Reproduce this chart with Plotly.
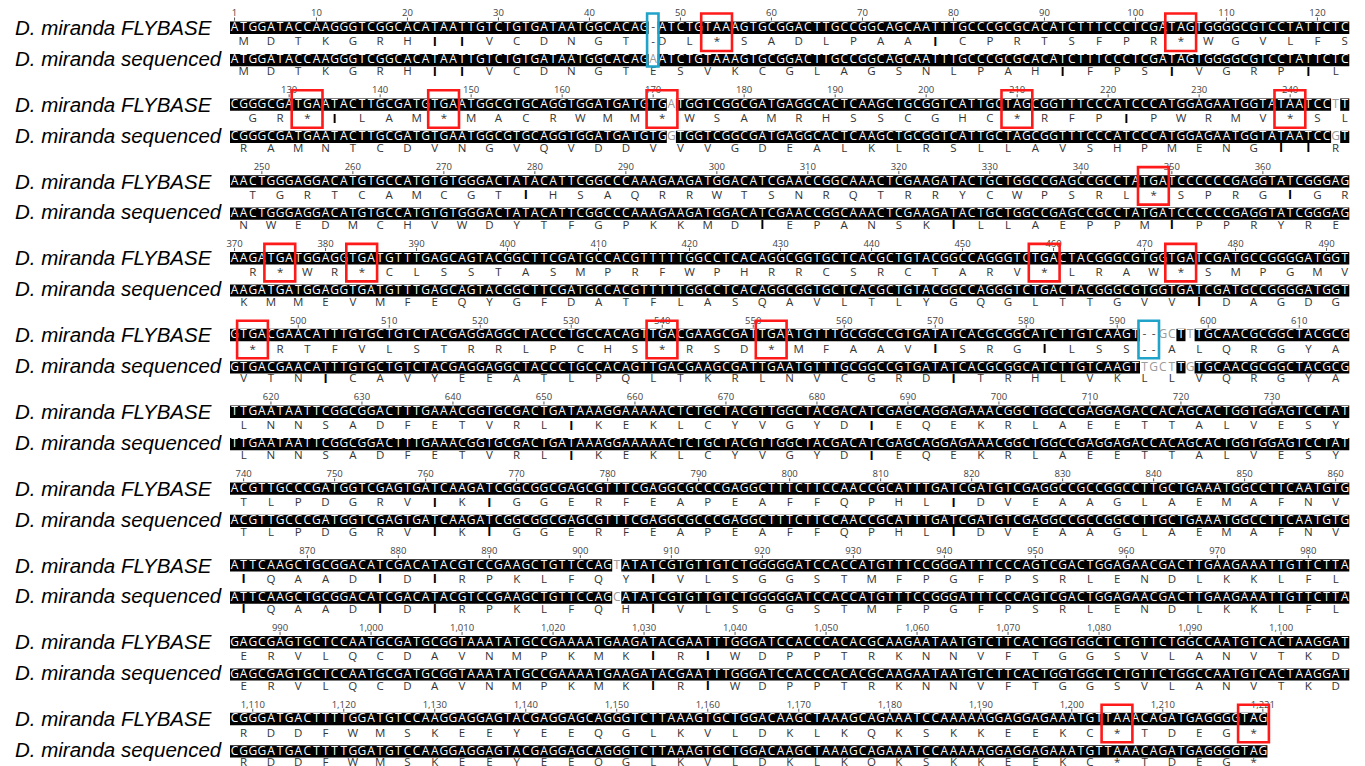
import plotly.graph_objects as go

# ---------------- data ----------------
ROW_STARTS = [1, 124, 247, 370, 493, 616, 739, 862, 985, 1108]
ALN_LEN = 1221

FLYBASE_ROWS = [
    "ATGGATACCAAGGGTCGGCACATAATTGTCTGTGATAATGGCACAG" + "-" + "ATCTGTAAAGTGCGGACTTGCCGGCAGCAATTTGCCCGCGCACATCTTTCCCTCGATAGTGGGGCGTCCTATTCTC",
    "CGGGCGATGAATACTTGCGATGTGAATGGCGTGCAGGTGGATGATGTGATGGTCGGCGATGA" + "GGCACTCAAGCTGCGGTCATTGCTAGCGGTTTCCCATCCCATGGAGAATGGTATAATCCTT",
    "AACTGGGAGGACATGTGCCATGTGTGGGACTATACATTCGGCCCAAAGAAGATGGACATCGA" + "ACCGGCAAACTCGAAGATACTGCTGGCCGAGCCGCCTATGATCCCCCCGAGGTATCGGGAG",
    "AAGATGATGGAGGTGATGTTTGAGCAGTACGGCTTCGATGCCACGTTTTTGGCCTCACAGGC" + "GGTGCTCACGCTGTACGGCCAGGGTCTGACTACGGGCGTGGTGATCGATGCCGGGGATGGT",
    "GTGACGAACATTTGTGCTGTCTACGAGGAGGCTACCCTGCCACAGTTGACGAAGCGATTGA" + "ATGTTTGCGGCCGTGATATCACGCGGCATCTTGTCAAGT" + "--GCTTTGCAACGCGGCTACGCG",
    "TTGAATAATTCGGCGGACTTTGAAACGGTGCGACTGATAAAGGAAAAACTCTGCTACGTTGG" + "CTACGACATCGAGCAGGAGAAACGGCTGGCCGAGGAGACCACAGCACTGGTGGAGTCCTAT",
    "ACGTTGCCCGATGGTCGAGTGATCAAGATCGGCGGCGAGCGTTTCGAGGCGCCCGAGGCTTT" + "CTTCCAACCGCATTTGATCGATGTCGAGGCCGCCGGCCTTGCTGAAATGGCCTTCAATGTG",
    "ATTCAAGCTGCGGACATCGACATACGTCCGAAGCTGTTCCAG" + "T" + "ATATCGTGTTGTCTGGGGG" + "ATCCACCATGTTTCCGGGATTTCCCAGTCGACTGGAGAACGACTTGAAGAAATTGTTCTTA",
    "GAGCGAGTGCTCCAATGCGATGCGGTAAATATGCCGAAAATGAAGATACGAATTTGGGATCC" + "ACCCACACGCAAGAATAATGTCTTCACTGGTGGCTCTGTTCTGGCCAATGTCACTAAGGAT",
    "CGGGATGACTTTTGGATGTCCAAGGAGGAGTACGAGGAGCAGGGTCTTAAAGTGCTGGACAA" + "GCTAAAGCAGAAATCCAAAAAGGAGGAGAAATGTTAAACAGATGAGGGGTAG",
]

SEQUENCED_ROWS = [
    "ATGGATACCAAGGGTCGGCACATAATTGTCTGTGATAATGGCACAG" + "A" + "ATCTGTAAAGTGCGGACTTGCCGGCAGCAATTTGCCCGCGCACATCTTTCCCTCGATAGTGGGGCGTCCTATTCTC",
    "CGGGCGATGAATACTTGCGATGTGAATGGCGTGCAGGTGGATGATGTGGTGGTCGGCGATGA" + "GGCACTCAAGCTGCGGTCATTGCTAGCGGTTTCCCATCCCATGGAGAATGGTATAATCCGT",
    "AACTGGGAGGACATGTGCCATGTGTGGGACTATACATTCGGCCCAAAGAAGATGGACATCGA" + "ACCGGCAAACTCGAAGATACTGCTGGCCGAGCCGCCTATGATCCCCCCGAGGTATCGGGAG",
    "AAGATGATGGAGGTGATGTTTGAGCAGTACGGCTTCGATGCCACGTTTTTGGCCTCACAGGC" + "GGTGCTCACGCTGTACGGCCAGGGTCTGACTACGGGCGTGGTGATCGATGCCGGGGATGGT",
    "GTGACGAACATTTGTGCTGTCTACGAGGAGGCTACCCTGCCACAGTTGACGAAGCGATTGA" + "ATGTTTGCGGCCGTGATATCACGCGGCATCTTGTCAAGT" + "TGCTTGTGCAACGCGGCTACGCG",
    "TTGAATAATTCGGCGGACTTTGAAACGGTGCGACTGATAAAGGAAAAACTCTGCTACGTTGG" + "CTACGACATCGAGCAGGAGAAACGGCTGGCCGAGGAGACCACAGCACTGGTGGAGTCCTAT",
    "ACGTTGCCCGATGGTCGAGTGATCAAGATCGGCGGCGAGCGTTTCGAGGCGCCCGAGGCTTT" + "CTTCCAACCGCATTTGATCGATGTCGAGGCCGCCGGCCTTGCTGAAATGGCCTTCAATGTG",
    "ATTCAAGCTGCGGACATCGACATACGTCCGAAGCTGTTCCAG" + "C" + "ATATCGTGTTGTCTGGGGG" + "ATCCACCATGTTTCCGGGATTTCCCAGTCGACTGGAGAACGACTTGAAGAAATTGTTCTTA",
    "GAGCGAGTGCTCCAATGCGATGCGGTAAATATGCCGAAAATGAAGATACGAATTTGGGATCC" + "ACCCACACGCAAGAATAATGTCTTCACTGGTGGCTCTGTTCTGGCCAATGTCACTAAGGAT",
    "CGGGATGACTTTTGGATGTCCAAGGAGGAGTACGAGGAGCAGGGTCTTAAAGTGCTGGACAA" + "GCTAAAGCAGAAATCCAAAAAGGAGGAGAAATGTTAAACAGATGAGGGGTAG",
]

FLYBASE_AA = [
    "MDTKGRHIIVCDNGTDL*SADLPAAICPRTSFPR*WGVLFS",
    "GR*ILAM*MACRWMM*WSAMRHSSCGHC*RFPIPWRMV*SL",
    "TGRTCAMCGTIHSAQRRWTSNRQTRRYCWPSRL*SPRGIGR",
    "R*WR*CLSSTASMPRFWPHRRCSRCTARV*LRAW*SMPGMV",
    "*RTFVLSTRRLPCHS*RSD*MFAAVISRGILSSALQRGYA",
    "LNNSADFETVRLIKEKLCYVGYDIEQEKRLAEETTALVESY",
    "TLPDGRVIKIGGERFEAPEAFFQPHLIDVEAAGLAEMAFNV",
    "IQAADIDIRPKLFQYIVLSGGSTMFPGFPSRLENDLKKLFL",
    "ERVLQCDAVNMPKMKIRIWDPPTRKNNVFTGGSVLANVTKD",
    "RDDFWMSKEEYEEQGLKVLDKLKQKSKKEEKC*TDEG*",
]

SEQUENCED_AA = [
    "MDTKGRHIIVCDNGTESVKCGLAGSNLPAHIFPSIVGRPIL",
    "RAMNTCDVNGVQVDDVVVGDEALKLRSLLAVSHPMENGIIR",
    "NWEDMCHVWDYTFGPKKMDIEPANSKILLAEPPMIPPRYRE",
    "KMMEVMFEQYGFDATFLASQAVLTLYGQGLTTGVVIDAGDG",
    "VTNICAVYEEATLPQLTKRLNVCGRDITRHLVKLLVQRGYA",
    "LNNSADFETVRLIKEKLCYVGYDIEQEKRLAEETTALVESY",
    "TLPDGRVIKIGGERFEAPEAFFQPHLIDVEAAGLAEMAFNV",
    "IQAADIDIRPKLFQHIVLSGGSTMFPGFPSRLENDLKKLFL",
    "ERVLQCDAVNMPKMKIRIWDPPTRKNNVFTGGSVLANVTKD",
    "RDDFWMSKEEYEEQGLKVLDKLKQKSKKEEKC*TDEG*",
]

ROW_LABELS = ["D. miranda FLYBASE", "D. miranda sequenced"]

# stop codons highlighted in red (first alignment column of each codon)
RED_BOX_STARTS = [53, 104, 131, 146, 170, 209, 239, 347, 374, 383, 458, 473,
                  494, 539, 551, 1204, 1219]
# indel regions highlighted in blue: (first column, last column, covers both rows?)
BLUE_BOXES = [(47, 47, True), (593, 594, False)]

RULER_EXTRA = [1, 1221]
RULER_SKIP = [1220]

# ---------------- geometry / style ----------------
PAGE_MARGIN = 8          # default body margin of the html page
W, H = 1365, 766
X0 = 230.0
CW = 9.1
BLOCK_H = 76.8
Y_RULER = 14.0
Y_TICK = (17.5, 20.5)
BAR1 = (21.6, 34.0)
Y_AA1 = 42.6
BAR2 = (54.0, 66.2)
Y_AA2 = 72.4
Y_LAB1 = 27.5
Y_LAB2 = 58.3
BOX_TOP = 13.5
BOX_BOTTOM = 51.0

SEQ_FONT = "Open Sans"
LABEL_FONT = "Liberation Sans"
NT_SIZE = 12
AA_SIZE = 11.5
I_SIZE = 12.5

fly = "".join(FLYBASE_ROWS)
seq = "".join(SEQUENCED_ROWS)
fly_aa = "".join(FLYBASE_AA)
seq_aa = "".join(SEQUENCED_AA)


def row_of(col):
    r = 0
    for i, s in enumerate(ROW_STARTS):
        if s <= col:
            r = i
    return r


def xc(col):
    r = row_of(col)
    return X0 + (col - ROW_STARTS[r] + 0.5) * CW


def xl(col):
    r = row_of(col)
    return X0 + (col - ROW_STARTS[r]) * CW


def base(col):
    return row_of(col) * BLOCK_H


def row_end(r):
    return ROW_STARTS[r + 1] - 1 if r + 1 < len(ROW_STARTS) else ALN_LEN


fig = go.Figure()
shapes = []

# black highlight bars for identical columns
for r in range(len(ROW_STARTS)):
    s, e = ROW_STARTS[r], row_end(r)
    b = r * BLOCK_H
    for (y0, y1) in (BAR1, BAR2):
        run = None
        for c in range(s, e + 2):
            same = c <= e and fly[c - 1] == seq[c - 1]
            if same and run is None:
                run = c
            if not same and run is not None:
                shapes.append(dict(type="rect", xref="x", yref="y", layer="below",
                                   x0=xl(run), x1=xl(c - 1) + CW, y0=b + y0, y1=b + y1,
                                   fillcolor="black", line=dict(width=0)))
                run = None

# nucleotide letters
for s_str, (y0, y1) in ((fly, BAR1), (seq, BAR2)):
    xs, ys, ts, cs = [], [], [], []
    for c in range(1, ALN_LEN + 1):
        ch = s_str[c - 1]
        xs.append(xc(c))
        ys.append(base(c) + (y0 + y1) / 2 + 0.3)
        ts.append(ch)
        if fly[c - 1] == seq[c - 1]:
            cs.append("white")
        elif ch == "-":
            cs.append("#555555")
        else:
            cs.append("#9a9a9a")
    fig.add_trace(go.Scatter(x=xs, y=ys, text=ts, mode="text", hoverinfo="skip",
                             textfont=dict(family=SEQ_FONT, size=NT_SIZE, color=cs),
                             showlegend=False))

# translations
for s_str, aa, yaa in ((fly, fly_aa, Y_AA1), (seq, seq_aa, Y_AA2)):
    cols = [i for i, ch in enumerate(s_str, start=1) if ch != "-"]
    gaps = [i for i, ch in enumerate(s_str, start=1) if ch == "-"]
    xs, ys, ts, cs, ss = [], [], [], [], []
    for k, a in enumerate(aa):
        mid = cols[3 * k + 1]
        xs.append(xc(mid))
        ys.append(base(mid) + yaa)
        if a == "I":
            ts.append("<b>I</b>")
            cs.append("black")
            ss.append(I_SIZE)
        else:
            ts.append(a)
            cs.append("#333333")
            ss.append(AA_SIZE)
    for g in gaps:
        xs.append(xc(g))
        ys.append(base(g) + yaa)
        ts.append("-")
        cs.append("#333333")
        ss.append(AA_SIZE)
    fig.add_trace(go.Scatter(x=xs, y=ys, text=ts, mode="text", hoverinfo="skip",
                             textfont=dict(family=SEQ_FONT, size=ss, color=cs),
                             showlegend=False))

# rulers
rx, ry, rt = [], [], []
tx, ty = [], []
for c in range(1, ALN_LEN + 1):
    if (c % 10 == 0 or c in RULER_EXTRA) and c not in RULER_SKIP:
        rx.append(xc(c))
        ry.append(base(c) + Y_RULER)
        rt.append(f"{c:,}")
        tx += [xc(c), xc(c), None]
        ty += [base(c) + Y_TICK[0], base(c) + Y_TICK[1], None]
fig.add_trace(go.Scatter(x=rx, y=ry, text=rt, mode="text", hoverinfo="skip",
                         textfont=dict(family=SEQ_FONT, size=9.5, color="#444444"),
                         showlegend=False))
fig.add_trace(go.Scatter(x=tx, y=ty, mode="lines", hoverinfo="skip",
                         line=dict(color="#555555", width=1), showlegend=False))

# red stop-codon boxes
for st in RED_BOX_STARTS:
    b = base(st)
    shapes.append(dict(type="rect", xref="x", yref="y", layer="above",
                       x0=xl(st) - 2, x1=xl(st + 2) + CW + 1.5,
                       y0=b + BOX_TOP, y1=b + BOX_BOTTOM,
                       line=dict(color="#ff1a1a", width=2.6), fillcolor="rgba(0,0,0,0)"))

# blue indel boxes
for st, en, both in BLUE_BOXES:
    b = base(st)
    shapes.append(dict(type="rect", xref="x", yref="y", layer="above",
                       x0=xl(st) - 1.5, x1=xl(en) + CW + 0.8,
                       y0=b + BOX_TOP, y1=b + (BAR2[1] + 0.3 if both else BOX_BOTTOM),
                       line=dict(color="#1fa3c9", width=2.6), fillcolor="rgba(0,0,0,0)"))

# top rule
shapes.append(dict(type="line", xref="x", yref="y", x0=15, x1=227, y0=4, y1=4,
                   line=dict(color="black", width=2.5)))

# row labels
annotations = []
for r in range(len(ROW_STARTS)):
    b = r * BLOCK_H
    for lab, yl in zip(ROW_LABELS, (Y_LAB1, Y_LAB2)):
        annotations.append(dict(x=13, y=b + yl, xref="x", yref="y", text=f"<i>{lab}</i>",
                                showarrow=False, xanchor="left", yanchor="middle",
                                font=dict(family=LABEL_FONT, size=20.5, color="black")))

fig.update_layout(
    width=W - PAGE_MARGIN, height=H - PAGE_MARGIN, autosize=False,
    margin=dict(l=0, r=0, t=0, b=0),
    paper_bgcolor="white", plot_bgcolor="white",
    xaxis=dict(range=[PAGE_MARGIN, W], visible=False, fixedrange=True),
    yaxis=dict(range=[H, PAGE_MARGIN], visible=False, fixedrange=True),
    shapes=shapes, annotations=annotations,
)

fig.write_html("out.html", config={"displayModeBar": False})
